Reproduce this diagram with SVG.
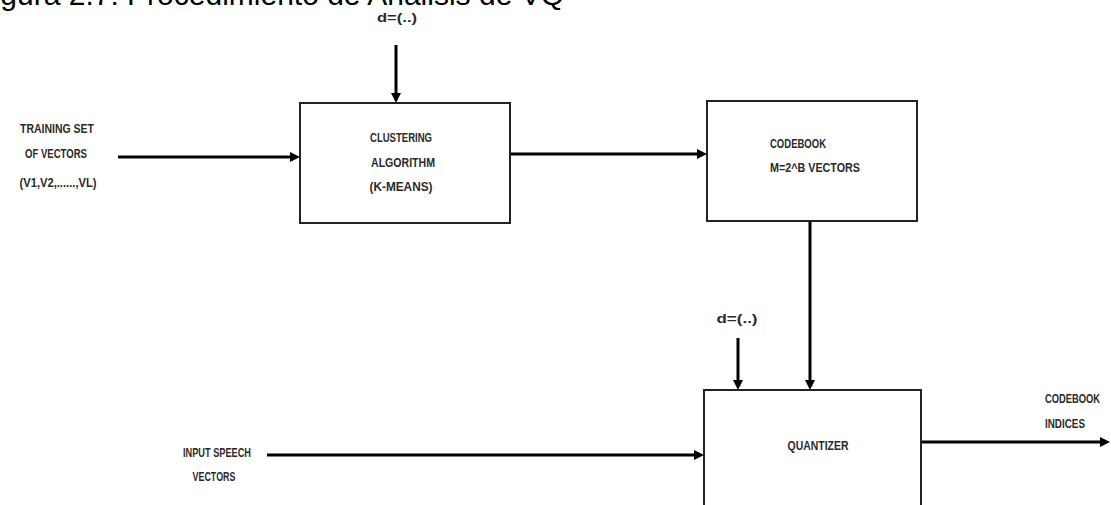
<svg xmlns="http://www.w3.org/2000/svg" width="1111" height="505" viewBox="0 0 1111 505">
<style>
.box{fill:#fff;stroke:#222;stroke-width:2}
.wire{stroke:#000;stroke-width:3;fill:none}
.lbl{font-family:"Liberation Sans",Arial,sans-serif;font-size:13.5px;font-weight:bold;fill:#2a2a2a;}
.c{text-anchor:middle}
.title{font-family:"Liberation Sans",Arial,sans-serif;font-size:30px;fill:#000;text-anchor:end}
</style>
<defs>
<marker id="ah" viewBox="0 0 10 10" refX="1" refY="5" markerWidth="10" markerHeight="10" markerUnits="userSpaceOnUse" orient="auto">
<path d="M0,0 L10,5 L0,10 z" fill="#000"/>
</marker>
</defs>
<rect width="1111" height="505" fill="#fff"/>
<text class="title" x="564" y="4.5">Figura 2.7: Procedimiento de Análisis de VQ</text>

<g id="connectors">
<line class="wire" x1="396" y1="45" x2="396" y2="94" marker-end="url(#ah)"/>
<line class="wire" x1="118" y1="157" x2="291" y2="157" marker-end="url(#ah)"/>
<line class="wire" x1="510" y1="154" x2="698" y2="154" marker-end="url(#ah)"/>
<line class="wire" x1="810" y1="221" x2="810" y2="381" marker-end="url(#ah)"/>
<line class="wire" x1="738" y1="338" x2="738" y2="381" marker-end="url(#ah)"/>
<line class="wire" x1="267" y1="455" x2="695" y2="455" marker-end="url(#ah)"/>
<line class="wire" x1="921" y1="442" x2="1101" y2="442" marker-end="url(#ah)"/>
</g>

<g id="d-top">
<text class="lbl c" x="397" y="21.5" textLength="40" lengthAdjust="spacingAndGlyphs">d=(..)</text>
</g>

<g id="training-set">
<text class="lbl c" x="57" y="132.5" textLength="74" lengthAdjust="spacingAndGlyphs">TRAINING SET</text>
<text class="lbl c" x="56" y="157.5" textLength="62" lengthAdjust="spacingAndGlyphs">OF VECTORS</text>
<text class="lbl c" x="58" y="186.5" textLength="77" lengthAdjust="spacingAndGlyphs">(V1,V2,......,VL)</text>
</g>

<g id="clustering">
<rect class="box" x="300" y="103" width="210" height="120"/>
<text class="lbl c" x="401" y="141.5" textLength="62" lengthAdjust="spacingAndGlyphs">CLUSTERING</text>
<text class="lbl c" x="403" y="166.5" textLength="64" lengthAdjust="spacingAndGlyphs">ALGORITHM</text>
<text class="lbl c" x="401" y="190.5" textLength="63" lengthAdjust="spacingAndGlyphs">(K-MEANS)</text>
</g>

<g id="codebook">
<rect class="box" x="707" y="101" width="210" height="120"/>
<text class="lbl" x="770" y="147.5" textLength="56" lengthAdjust="spacingAndGlyphs">CODEBOOK</text>
<text class="lbl" x="770" y="171.5" textLength="90" lengthAdjust="spacingAndGlyphs">M=2^B VECTORS</text>
</g>

<g id="d-quant">
<text class="lbl c" x="737" y="322.5" textLength="41" lengthAdjust="spacingAndGlyphs">d=(..)</text>
</g>

<g id="quantizer">
<rect class="box" x="704" y="390" width="217" height="130"/>
<text class="lbl c" x="818" y="449.5" textLength="61" lengthAdjust="spacingAndGlyphs">QUANTIZER</text>
</g>

<g id="input-speech">
<text class="lbl c" x="217" y="456.5" textLength="68" lengthAdjust="spacingAndGlyphs">INPUT SPEECH</text>
<text class="lbl c" x="214" y="480.5" textLength="43" lengthAdjust="spacingAndGlyphs">VECTORS</text>
</g>

<g id="codebook-indices">
<text class="lbl" x="1045" y="402.5" textLength="55" lengthAdjust="spacingAndGlyphs">CODEBOOK</text>
<text class="lbl" x="1045" y="427.5" textLength="40" lengthAdjust="spacingAndGlyphs">INDICES</text>
</g>
</svg>
